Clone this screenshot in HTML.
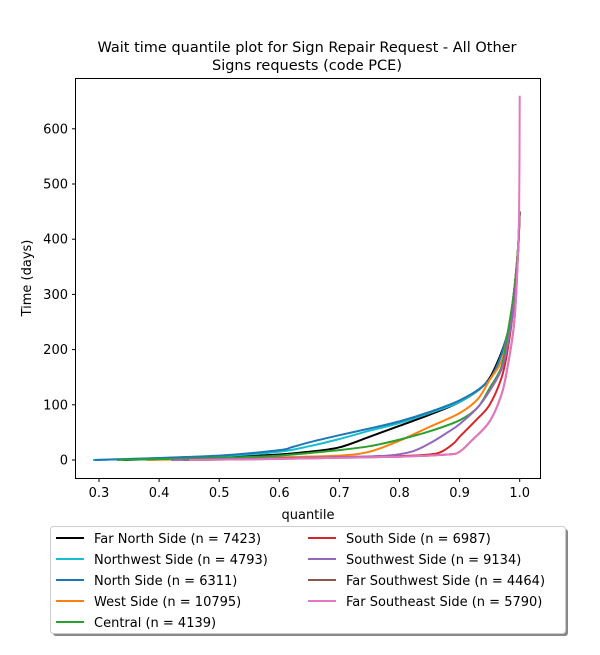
<!DOCTYPE html>
<html><head><meta charset="utf-8"><style>
body{margin:0;background:#fff;font-family:"Liberation Sans","DejaVu Sans",sans-serif}
svg text{font-family:"DejaVu Sans","Liberation Sans",sans-serif}
</style></head><body>
<svg id="chart" width="600" height="650">
<text x="307" y="52" font-size="14.5" text-anchor="middle">Wait time quantile plot for Sign Repair Request - All Other</text>
<text x="307" y="70" font-size="14.5" text-anchor="middle">Signs  requests (code PCE)</text>
<g id="plot"></g>
<rect x="75.5" y="78.5" width="465" height="400" fill="none" stroke="#000"/>
<text x="308" y="519" font-size="13" text-anchor="middle">quantile</text>
<text transform="translate(31,278) rotate(-90)" font-size="13" text-anchor="middle">Time (days)</text>
<g id="legend"></g>
</svg>
<script>
const NS="http://www.w3.org/2000/svg";
const seriesNames=["Far North Side (n = 7423)","Northwest Side (n = 4793)","North Side (n = 6311)","West Side (n = 10795)","Central (n = 4139)","South Side (n = 6987)","Southwest Side (n = 9134)","Far Southwest Side (n = 4464)","Far Southeast Side (n = 5790)"];
const seriesColors=["#000000","#17becf","#1f77b4","#ff7f0e","#2ca02c","#d62728","#9467bd","#8c564b","#e377c2"];
const farNorthQ=[0.34,0.5,0.6,0.65,0.7,0.75,0.8,0.85,0.9,0.94,0.96,0.98,0.99,0.997,1.0];
const farNorthD=[0,5,10,15,23,42,62,82,105,135,170,230,300,380,450];
const northwestQ=[0.29,0.5,0.6,0.65,0.7,0.75,0.8,0.85,0.9,0.94,0.96,0.98,0.99,0.997,1.0];
const northwestD=[0,7,15,25,38,53,67,85,105,135,165,230,300,380,450];
const northQ=[0.293,0.5,0.6,0.62,0.65,0.7,0.75,0.8,0.85,0.9,0.94,0.96,0.98,0.99,0.997,1.0];
const northD=[0,8,18,23,32,45,57,70,87,108,135,165,230,300,380,450];
const westQ=[0.38,0.5,0.6,0.7,0.75,0.8,0.85,0.9,0.93,0.95,0.97,0.98,0.99,0.997,1.0];
const westD=[0,3,5,8,15,35,60,85,110,145,180,230,300,380,450];
const centralQ=[0.33,0.5,0.6,0.7,0.75,0.8,0.85,0.9,0.93,0.95,0.97,0.98,0.99,0.997,1.0];
const centralD=[0,4,8,18,25,37,52,72,95,130,170,230,300,380,450];
const southQ=[0.44,0.6,0.7,0.8,0.85,0.87,0.89,0.9,0.93,0.95,0.97,0.98,0.99,0.997,1.0];
const southD=[0,3,5,7,10,15,30,42,75,100,150,200,280,370,450];
const southwestQ=[0.42,0.6,0.7,0.78,0.82,0.85,0.88,0.9,0.93,0.95,0.97,0.98,0.99,0.997,1.0];
const southwestD=[0,3,5,8,15,30,50,65,95,125,165,210,280,370,450];
const farSouthwestQ=[0.45,0.6,0.7,0.8,0.88,0.9,0.92,0.95,0.97,0.98,0.99,0.995,1.0];
const farSouthwestD=[0,2,4,6,10,15,35,70,120,170,240,320,450];
const farSoutheastQ=[0.45,0.6,0.7,0.8,0.88,0.9,0.92,0.95,0.97,0.98,0.99,0.995,0.999,1.0];
const farSoutheastD=[0,2,4,6,10,15,35,70,120,170,240,320,450,660];
const seriesQ=[farNorthQ,northwestQ,northQ,westQ,centralQ,southQ,southwestQ,farSouthwestQ,farSoutheastQ];
const seriesD=[farNorthD,northwestD,northD,westD,centralD,southD,southwestD,farSouthwestD,farSoutheastD];
const xTicks=[0.3,0.4,0.5,0.6,0.7,0.8,0.9,1.0];
const xTickLabels=["0.3","0.4","0.5","0.6","0.7","0.8","0.9","1.0"];
const yTicks=[0,100,200,300,400,500,600];
const yTickLabels=["0","100","200","300","400","500","600"];
const xs=q=>99+(q-0.3)*601;
const ys=d=>460-d*0.552;
function mk(t,a,p){const e=document.createElementNS(NS,t);for(const k in a)e.setAttribute(k,a[k]);p.appendChild(e);return e;}
function smooth(P){let d='M'+P[0][0].toFixed(1)+','+P[0][1].toFixed(1);
for(let i=0;i<P.length-1;i++){const p0=P[Math.max(0,i-1)],p1=P[i],p2=P[i+1],p3=P[Math.min(P.length-1,i+2)];
const c1=[p1[0]+(p2[0]-p0[0])/6,p1[1]+(p2[1]-p0[1])/6],c2=[p2[0]-(p3[0]-p1[0])/6,p2[1]-(p3[1]-p1[1])/6];
d+=' C'+c1.map(v=>v.toFixed(1)).join(',')+' '+c2.map(v=>v.toFixed(1)).join(',')+' '+p2.map(v=>v.toFixed(1)).join(',');}
return d;}
const plot=document.getElementById('plot');
xTicks.forEach((v,i)=>{const x=xs(v);
const l=mk('line',{x1:x,x2:x,y1:478.5,y2:482,stroke:'#000'},plot);


const t=mk('text',{x:x,y:497,'font-size':13,'text-anchor':'middle'},plot);t.textContent=xTickLabels[i];

});
yTicks.forEach((v,i)=>{const y=ys(v);
const l=mk('line',{x1:72,x2:75.5,y1:y,y2:y,stroke:'#000'},plot);


const t=mk('text',{x:68,y:y+4.5,'font-size':13,'text-anchor':'end'},plot);t.textContent=yTickLabels[i];

});
seriesQ.forEach((qs,i)=>{const P=qs.map((q,j)=>[xs(q),ys(seriesD[i][j])]);
const p=mk('path',{d:smooth(P),fill:'none',stroke:seriesColors[i],'stroke-width':2,'stroke-linejoin':'round'},plot);

});
const lg=document.getElementById('legend');
const sh=mk('rect',{x:53,y:529,width:515,height:107,rx:3,fill:'#888'},lg);


const bx=mk('rect',{x:50.5,y:526.5,width:515,height:107,rx:3,fill:'#fff',stroke:'#ccc'},lg);


seriesNames.forEach((n,i)=>{const col=i<5?0:1,row=i<5?i:i-5;const x=col?308:56,y=538+row*21;
const l=mk('line',{x1:x,x2:x+28,y1:y,y2:y,stroke:seriesColors[i],'stroke-width':2},lg);


const t=mk('text',{x:x+38,y:y+5,'font-size':13},lg);t.textContent=n;

});
</script>
</body></html>
